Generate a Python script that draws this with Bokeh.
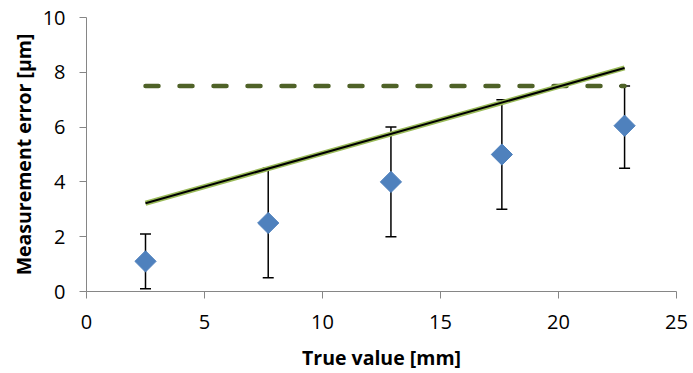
import math
from bokeh.plotting import figure
from bokeh.models import ColumnDataSource, Whisker, TeeHead, Range1d, FixedTicker
from bokeh.embed import file_html
from bokeh.resources import INLINE

# data
true_value = [2.5, 7.7, 12.9, 17.6, 22.8]
meas_error = [1.1, 2.5, 4.0, 5.0, 6.05]
err_lower = [0.1, 0.5, 2.0, 3.0, 4.5]
err_upper = [2.1, 4.5, 6.0, 7.0, 7.5]
fit_x = [2.5, 22.8]
fit_y = [3.22, 8.16]
limit_x = [2.5, 22.8]
limit_y = [7.5, 7.5]
x_ticks = [0, 5, 10, 15, 20, 25]
y_ticks = [0, 2, 4, 6, 8, 10]

FONT = "Open Sans"

p = figure(width=693, height=373, output_backend="svg", toolbar_location=None,
           x_range=Range1d(0, 25), y_range=Range1d(0, 10),
           min_border_left=86, min_border_right=17, min_border_top=17, min_border_bottom=79)
p.outline_line_color = None
p.grid.visible = False
p.background_fill_color = "white"
p.border_fill_color = "white"

for ax in (p.xaxis[0], p.yaxis[0]):
    ax.axis_line_color = "#868686"
    ax.major_tick_line_color = "#868686"
    ax.minor_tick_line_color = None
    ax.major_tick_in = 0
    ax.major_tick_out = 7
    ax.major_label_text_font = FONT
    ax.major_label_text_font_size = "20px"
    ax.major_label_text_color = "black"
    ax.axis_label_text_font = FONT
    ax.axis_label_text_font_size = "19.5px"
    ax.axis_label_text_font_style = "bold"
    ax.axis_label_text_color = "black"

p.xaxis.ticker = FixedTicker(ticks=x_ticks)
p.yaxis.ticker = FixedTicker(ticks=y_ticks)
p.xaxis.axis_label = "True value [mm]"
p.yaxis.axis_label = "Measurement error [μm]"
p.xaxis.major_label_standoff = 16
p.yaxis.major_label_standoff = 14
p.xaxis.axis_label_standoff = 12
p.yaxis.axis_label_standoff = 3

# dashed limit line
p.line(limit_x, limit_y, line_color="#4f6228", line_width=4.5, line_dash="13 21", line_cap="round")

# fit line (green halo + black core)
p.line(fit_x, fit_y, line_color="#9bbb59", line_width=5)
p.line(fit_x, fit_y, line_color="black", line_width=2)

# error bars
src = ColumnDataSource(dict(x=true_value, y=meas_error, lo=err_lower, hi=err_upper))
w = Whisker(base="x", lower="lo", upper="hi", source=src, line_color="black", line_width=1.5,
            upper_head=TeeHead(size=11, line_color="black", line_width=1.5),
            lower_head=TeeHead(size=11, line_color="black", line_width=1.5))
p.add_layout(w)

# diamonds
p.scatter("x", "y", source=src, marker="square", angle=math.pi / 4, size=15,
          fill_color="#4f81bd", line_color="#4f81bd")

open("out.html", "w").write(file_html(p, INLINE))
